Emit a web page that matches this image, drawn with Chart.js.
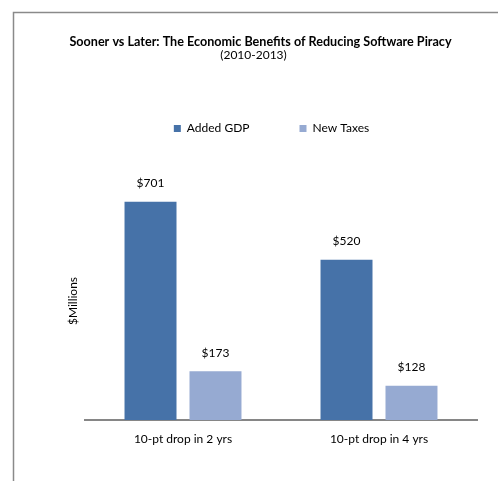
<!DOCTYPE html>
<html>
<head>
<meta charset="utf-8">
<script src="https://cdn.jsdelivr.net/npm/chart.js@4/dist/chart.umd.min.js"></script>
<style>
  html, body { margin: 0; padding: 0; background: #ffffff; }
  #wrap { width: 498px; height: 481px; }
</style>
</head>
<body>
<div id="wrap"><canvas id="c" width="498" height="481"></canvas></div>
<script>
const titleText = "Sooner vs Later: The Economic Benefits of Reducing Software Piracy";
const subtitleText = "(2010-2013)";
const yAxisTitle = "$Millions";
const categories = ["10-pt drop in 2 yrs", "10-pt drop in 4 yrs"];
const seriesNames = ["Added GDP", "New Taxes"];
const addedGDP = [701, 520];
const newTaxes = [173, 128];
const seriesColors = ["#4672A8", "#96AAD2"];

const FONT = "Lato, 'Open Sans', sans-serif";

const framePlugin = {
  id: 'frame',
  beforeDraw(chart) {
    const ctx = chart.ctx;
    ctx.save();
    ctx.fillStyle = '#ffffff';
    ctx.fillRect(0, 0, chart.width, chart.height);
    ctx.strokeStyle = '#8a8a8a';
    ctx.lineWidth = 1.5;
    ctx.beginPath();
    ctx.moveTo(13.5, chart.height + 5);
    ctx.lineTo(13.5, 12.5);
    ctx.lineTo(chart.width + 5, 12.5);
    ctx.stroke();
    ctx.restore();
  },
  afterDraw(chart) {
    const ctx = chart.ctx;
    ctx.save();
    ctx.fillStyle = '#000000';
    ctx.textAlign = 'center';
    ctx.textBaseline = 'middle';
    ctx.font = "bold 12.6px " + FONT;
    ctx.fillText(titleText, 260.5, 42);
    ctx.font = "12px " + FONT;
    ctx.fillText(subtitleText, 253.5, 55);
    ctx.translate(73, 301);
    ctx.rotate(-Math.PI / 2);
    ctx.fillText(yAxisTitle, 0, 0);
    ctx.restore();
  }
};

const valueLabels = {
  id: 'valueLabels',
  afterDatasetsDraw(chart) {
    const ctx = chart.ctx;
    ctx.save();
    ctx.fillStyle = '#000000';
    ctx.textAlign = 'center';
    ctx.textBaseline = 'middle';
    ctx.font = "12px " + FONT;
    chart.data.datasets.forEach((ds, i) => {
      chart.getDatasetMeta(i).data.forEach((bar, j) => {
        ctx.fillText('$' + ds.data[j], bar.x, bar.y - 18.5);
      });
    });
    ctx.restore();
  }
};

new Chart(document.getElementById('c'), {
  type: 'bar',
  data: {
    labels: categories,
    datasets: [
      { label: seriesNames[0], data: addedGDP, backgroundColor: seriesColors[0] },
      { label: seriesNames[1], data: newTaxes, backgroundColor: seriesColors[1] }
    ]
  },
  options: {
    responsive: false,
    animation: false,
    devicePixelRatio: 1,
    categoryPercentage: 0.663,
    barPercentage: 0.8,
    layout: { padding: { left: 66, right: 21, top: 72.5, bottom: 22.6 } },
    plugins: {
      title: { display: false },
      tooltip: { enabled: false },
      legend: {
        display: true,
        position: 'top',
        labels: {
          boxWidth: 7,
          boxHeight: 7,
          padding: 50,
          color: '#000000',
          font: { family: FONT, size: 12 }
        }
      }
    },
    scales: {
      x: {
        grid: { display: false, drawTicks: false },
        border: { display: true, color: '#868686', width: 2 },
        ticks: { color: '#000000', padding: 12, font: { family: FONT, size: 12 } }
      },
      y: {
        min: 21,
        max: 879,
        grid: { display: false, drawTicks: false },
        border: { display: false },
        ticks: { display: false },
        afterFit(axis) { axis.width = 19; }
      }
    }
  },
  plugins: [framePlugin, valueLabels]
});
</script>
</body>
</html>
